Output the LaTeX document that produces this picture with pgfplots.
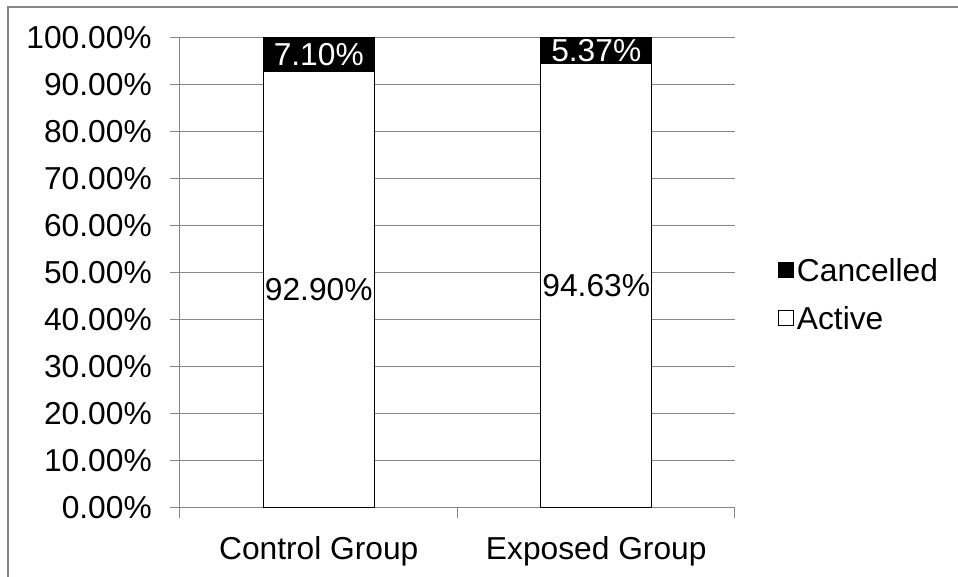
\documentclass[border=0pt]{standalone}
\usepackage{pgfplots}
\pgfplotsset{compat=1.18}
\usepackage{fontspec}
\setmainfont{Liberation Sans}
\definecolor{gridgray}{RGB}{134,134,134}
\newcommand\bigf{\fontsize{23.8pt}{28pt}\selectfont}
\begin{document}
\bigf
\begin{tikzpicture}
\useasboundingbox (0,0) rectangle (718.5pt,432.75pt);
\draw[gridgray, line width=1pt] (6pt,0) -- (6pt,427.5pt) -- (718.5pt,427.5pt);
\begin{axis}[
  at={(135pt,51.75pt)}, anchor=south west,
  scale only axis, width=416.25pt, height=352.5pt,
  ybar stacked, bar width=83.25pt,
  xmin=-0.5, xmax=1.5, ymin=0, ymax=100,
  xtick={0,1}, xticklabels={Control Group, Exposed Group},
  minor xtick={-0.5,0.5,1.5},
  ytick={0,10,...,100},
  yticklabel={\pgfmathprintnumber[fixed,fixed zerofill,precision=2]{\tick}\%},
  /pgf/number format/assume math mode=true,
  ymajorgrids, major grid style={gridgray, line width=0.75pt},
  axis x line*=bottom, axis y line*=left,
  axis line style={gridgray, line width=0.75pt},
  tick style={gridgray, line width=0.75pt},
  every major x tick/.style={draw=none},
  tick align=outside,
  major tick length=7.5pt, minor tick length=7.5pt,
  tick label style={font=\bigf},
  yticklabel style={anchor=east, inner sep=0pt, xshift=-13.5pt},
  xticklabel style={anchor=north, inner sep=0pt, yshift=-13.5pt},
  legend style={at={(1.0775,0.455)}, anchor=west, draw=none, fill=none, font=\bigf,
    inner sep=0pt, row sep=15pt,
    nodes={text height=17pt, text depth=0pt, inner sep=2pt}},
  reverse legend,
  legend cell align=left,
]
\addplot[fill=white, draw=black, line width=1pt,
  legend image code/.code={\draw[fill=white, draw=black, line width=0.8pt] (-2pt,-5.25pt) rectangle (9pt,5.75pt);}]
  coordinates {(0,92.90) (1,94.63)};
\addplot[fill=black, draw=black, line width=1pt,
  legend image code/.code={\draw[fill=black, draw=black] (-2pt,-5.25pt) rectangle (9pt,5.75pt);}]
  coordinates {(0,7.10) (1,5.37)};
\legend{Active, Cancelled}
\coordinate (a1) at (axis cs:0,46.45);
\coordinate (a2) at (axis cs:1,47.315);
\coordinate (c1) at (axis cs:0,96.45);
\coordinate (c2) at (axis cs:1,97.315);
\end{axis}
\node[font=\bigf] at (a1) {92.90\%};
\node[font=\bigf] at (a2) {94.63\%};
\node[font=\bigf, text=white] at (c1) {7.10\%};
\node[font=\bigf, text=white] at (c2) {5.37\%};
\end{tikzpicture}
\end{document}
